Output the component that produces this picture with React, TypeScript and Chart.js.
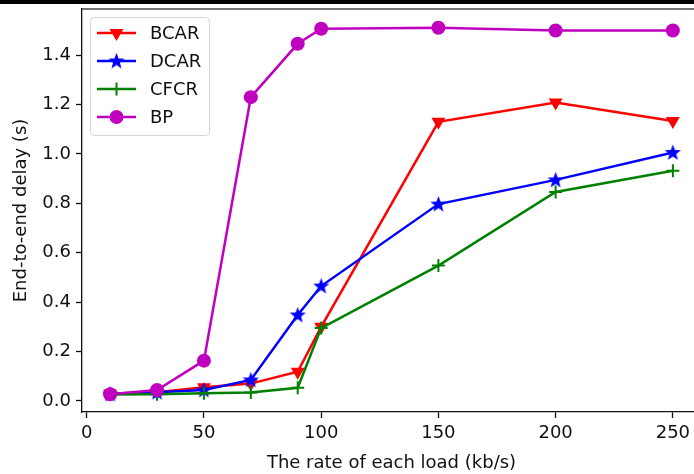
import React, { useEffect, useRef } from "react";
import { Chart, registerables } from "chart.js";

Chart.register(...registerables);

const loadRates = [10, 30, 50, 70, 90, 100, 150, 200, 250];
const bcarDelay = [0.03, 0.035, 0.055, 0.07, 0.118, 0.3, 1.13, 1.208, 1.133];
const dcarDelay = [0.028, 0.035, 0.044, 0.085, 0.348, 0.465, 0.797, 0.895, 1.006];
const cfcrDelay = [0.026, 0.027, 0.031, 0.034, 0.053, 0.295, 0.548, 0.846, 0.932];
const bpDelay = [0.027, 0.044, 0.163, 1.23, 1.446, 1.507, 1.511, 1.5, 1.5];
const seriesNames = ["BCAR", "DCAR", "CFCR", "BP"];
const seriesColors = ["#ff0000", "#0000ff", "#008000", "#bf00bf"];
const xTickValues = [0, 50, 100, 150, 200, 250];
const yTickValues = [0, 0.2, 0.4, 0.6, 0.8, 1.0, 1.2, 1.4];
const xTitle = "The rate of each load (kb/s)";
const yTitle = "End-to-end delay (s)";

const FONT = "'DejaVu Sans', 'Liberation Sans', sans-serif";
const TEXT = "#111";

function makeStar(color: string, size: number): HTMLCanvasElement {
  const c = document.createElement("canvas");
  c.width = size;
  c.height = size;
  const g = c.getContext("2d")!;
  const cx = size / 2, cy = size / 2 + 0.5;
  const R = size / 2, r = R * 0.42;
  g.beginPath();
  for (let i = 0; i < 10; i++) {
    const ang = -Math.PI / 2 + (i * Math.PI) / 5;
    const rad = i % 2 === 0 ? R : r;
    const px = cx + Math.cos(ang) * rad;
    const py = cy + Math.sin(ang) * rad;
    if (i === 0) g.moveTo(px, py);
    else g.lineTo(px, py);
  }
  g.closePath();
  g.fillStyle = color;
  g.fill();
  return c;
}

function drawMarker(ctx: CanvasRenderingContext2D, idx: number, x: number, y: number, star: HTMLCanvasElement) {
  const color = seriesColors[idx];
  ctx.save();
  ctx.fillStyle = color;
  ctx.strokeStyle = color;
  if (idx === 0) {
    const R = 8;
    ctx.beginPath();
    ctx.moveTo(x, y + R);
    ctx.lineTo(x - R * Math.sin(Math.PI / 3), y - R / 2);
    ctx.lineTo(x + R * Math.sin(Math.PI / 3), y - R / 2);
    ctx.closePath();
    ctx.fill();
  } else if (idx === 1) {
    ctx.drawImage(star, x - star.width / 2, y - star.height / 2);
  } else if (idx === 2) {
    ctx.lineWidth = 2;
    ctx.beginPath();
    ctx.moveTo(x - 6.5, y);
    ctx.lineTo(x + 6.5, y);
    ctx.moveTo(x, y - 6.5);
    ctx.lineTo(x, y + 6.5);
    ctx.stroke();
  } else {
    ctx.beginPath();
    ctx.arc(x, y, 7, 0, Math.PI * 2);
    ctx.fill();
  }
  ctx.restore();
}

export default function App() {
  const ref = useRef<HTMLCanvasElement | null>(null);

  useEffect(() => {
    const canvas = ref.current;
    if (!canvas) return;
    const star = makeStar(seriesColors[1], 17);

    const decor = {
      id: "decor",
      afterDraw(chart: any) {
        const ctx: CanvasRenderingContext2D = chart.ctx;
        const a = chart.chartArea;
        ctx.save();
        ctx.fillStyle = "#000";
        ctx.fillRect(0, 0, chart.width, 4);
        ctx.strokeStyle = "#444";
        ctx.lineWidth = 1.3;
        ctx.beginPath();
        ctx.moveTo(a.left, a.top);
        ctx.lineTo(a.right, a.top);
        ctx.moveTo(a.right, a.top);
        ctx.lineTo(a.right, a.bottom);
        ctx.stroke();

        // legend
        const bx = 90.5, by = 17.5, bw = 119, bh = 118, rr = 4;
        ctx.beginPath();
        ctx.moveTo(bx + rr, by);
        ctx.lineTo(bx + bw - rr, by);
        ctx.quadraticCurveTo(bx + bw, by, bx + bw, by + rr);
        ctx.lineTo(bx + bw, by + bh - rr);
        ctx.quadraticCurveTo(bx + bw, by + bh, bx + bw - rr, by + bh);
        ctx.lineTo(bx + rr, by + bh);
        ctx.quadraticCurveTo(bx, by + bh, bx, by + bh - rr);
        ctx.lineTo(bx, by + rr);
        ctx.quadraticCurveTo(bx, by, bx + rr, by);
        ctx.closePath();
        ctx.fillStyle = "rgba(255,255,255,0.8)";
        ctx.fill();
        ctx.strokeStyle = "#d4d4d4";
        ctx.lineWidth = 1;
        ctx.stroke();

        const rowY = [33, 61, 89, 117];
        ctx.font = `18px ${FONT}`;
        ctx.textBaseline = "middle";
        ctx.textAlign = "left";
        seriesNames.forEach((name, i) => {
          const y = rowY[i];
          ctx.strokeStyle = seriesColors[i];
          ctx.lineWidth = 2.5;
          ctx.beginPath();
          ctx.moveTo(97, y);
          ctx.lineTo(136, y);
          ctx.stroke();
          drawMarker(ctx, i, 116.5, y, star);
          ctx.fillStyle = TEXT;
          ctx.fillText(name, 150, y + 1);
        });
        ctx.restore();
      },
    };

    const allSeries = [bcarDelay, dcarDelay, cfcrDelay, bpDelay];
    const styles: any[] = ["triangle", star, "cross", "circle"];
    const radii = [8, 8.5, 6.5, 7];

    const datasets = allSeries.map((vals, i) => ({
      label: seriesNames[i],
      data: loadRates.map((x, j) => ({ x, y: vals[j] })),
      borderColor: seriesColors[i],
      backgroundColor: seriesColors[i],
      borderWidth: 2.5,
      pointStyle: styles[i],
      pointRadius: radii[i],
      pointRotation: i === 0 ? 180 : 0,
      pointBorderWidth: i === 2 ? 2 : 0,
      pointBorderColor: seriesColors[i],
      pointBackgroundColor: seriesColors[i],
      tension: 0,
      fill: false,
      order: 4 - i,
    }));

    const chart = new Chart(canvas, {
      type: "line",
      data: { datasets },
      plugins: [decor],
      options: {
        animation: false,
        responsive: false,
        maintainAspectRatio: false,
        layout: { padding: { left: 0, top: 9, right: 9, bottom: 0 } },
        plugins: { legend: { display: false }, tooltip: { enabled: false } },
        scales: {
          x: {
            type: "linear",
            min: -2,
            max: 262,
            afterBuildTicks: (s: any) => {
              s.ticks = xTickValues.map((v) => ({ value: v }));
            },
            afterFit: (s: any) => {
              s.height = 62;
              s.paddingLeft = 0;
              s.paddingRight = 0;
            },
            grid: { drawOnChartArea: false, drawTicks: true, tickLength: 6, tickWidth: 1.3, tickColor: TEXT },
            border: { display: true, color: TEXT, width: 1.3 },
            ticks: { color: TEXT, font: { family: FONT, size: 18 }, padding: 5, maxRotation: 0, autoSkip: false },
            title: { display: true, text: xTitle, color: TEXT, font: { family: FONT, size: 18 }, padding: { top: 5, bottom: 0 } },
          },
          y: {
            type: "linear",
            min: -0.045,
            max: 1.587,
            afterBuildTicks: (s: any) => {
              s.ticks = yTickValues.map((v) => ({ value: v }));
            },
            afterFit: (s: any) => {
              s.width = 82;
              s.paddingTop = 0;
              s.paddingBottom = 0;
            },
            grid: { drawOnChartArea: false, drawTicks: true, tickLength: 6, tickWidth: 1.3, tickColor: TEXT },
            border: { display: true, color: TEXT, width: 1.3 },
            ticks: {
              color: TEXT,
              font: { family: FONT, size: 18 },
              padding: 5,
              autoSkip: false,
              callback: (v: any) => Number(v).toFixed(1),
            },
            title: { display: true, text: yTitle, color: TEXT, font: { family: FONT, size: 18 }, padding: { top: 11, bottom: 0 } },
          },
        },
      },
    });
    return () => chart.destroy();
  }, []);

  return (
    <div style={{ position: "absolute", left: 0, top: 0, width: 694, height: 474, overflow: "hidden", background: "#fff" }}>
      <canvas ref={ref} width={710} height={474} style={{ display: "block" }} />
    </div>
  );
}
